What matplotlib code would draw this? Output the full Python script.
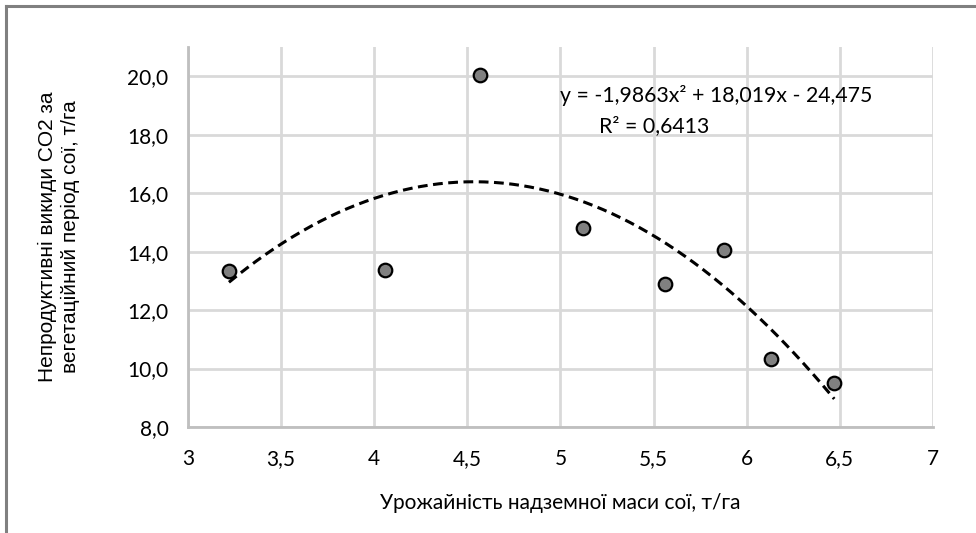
import numpy as np
import matplotlib.pyplot as plt
from matplotlib.ticker import FuncFormatter
from matplotlib.lines import Line2D

# yield of above-ground soybean mass, t/ha
yield_t = [3.22, 4.06, 4.57, 5.12, 5.56, 5.88, 6.13, 6.47]
# unproductive CO2 emissions, t/ha
co2 = [13.33, 13.37, 20.03, 14.80, 12.89, 14.05, 10.32, 9.50]

coef = [-1.9863, 18.019, -24.475]
r2 = 0.6413

xt = np.linspace(min(yield_t), max(yield_t), 200)
yt = np.polyval(coef, xt)

fig = plt.figure(figsize=(9.76, 5.33), dpi=100)
ax = fig.add_axes([0.1926, 0.1989, 0.7633, 0.7129])

ax.plot(xt, yt, color='black', lw=2.2, ls=(0, (3.2, 1.8)), zorder=2)
ax.scatter(yield_t, co2, s=95, color='#808080', edgecolor='black', linewidth=1.6, zorder=3)

ax.set_xlim(3, 7)
ax.set_ylim(8, 21)
ax.set_xticks(np.arange(3, 7.01, 0.5))
ax.set_yticks(np.arange(8, 20.01, 2))

comma = lambda fmt: FuncFormatter(lambda v, p: fmt(v).replace('.', ','))
ax.xaxis.set_major_formatter(comma(lambda v: ('%g' % v)))
ax.yaxis.set_major_formatter(comma(lambda v: '%.1f' % v))

ax.grid(True, color='#d9d9d9', lw=2)
ax.set_axisbelow(True)
for s in ['top', 'right']:
    ax.spines[s].set_visible(False)
for s in ['left', 'bottom']:
    ax.spines[s].set_color('#bfbfbf')
    ax.spines[s].set_linewidth(2)
ax.tick_params(length=0, labelsize=15)
ax.tick_params(axis='x', pad=16)
ax.tick_params(axis='y', pad=14)
for lab in ax.get_xticklabels() + ax.get_yticklabels():
    lab.set_fontfamily('Lato')

ax.set_xlabel('Урожайність надземної маси сої, т/га', fontsize=15, family='Lato', labelpad=17)
ax.set_ylabel('Непродуктивні викиди CO2 за\nвегетаційний період сої, т/га', fontsize=15,
              family='Liberation Sans', labelpad=34, linespacing=1.25)

ax.text(560 / 976, 1 - 96 / 533, 'y = -1,9863x² + 18,019x - 24,475', transform=fig.transFigure,
        fontsize=15.3, family='Lato', va='center', ha='left')
ax.text(599 / 976, 1 - 126 / 533, 'R² = 0,6413', transform=fig.transFigure,
        fontsize=15.3, family='Lato', va='center', ha='left')

# chart border
fig.add_artist(Line2D([6 / 976, 6 / 976], [0, 1 - 6 / 533], color='#808080', lw=2.2))
fig.add_artist(Line2D([6 / 976, 1], [1 - 6 / 533, 1 - 6 / 533], color='#808080', lw=2.2))

fig.savefig('out.png', dpi=100)
